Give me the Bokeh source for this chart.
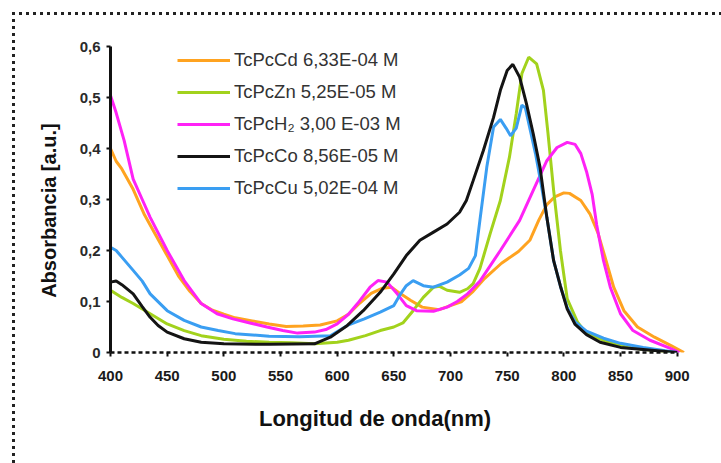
from bokeh.plotting import figure
from bokeh.layouts import column
from bokeh.models import (Legend, LegendItem, FixedTicker,
                          CustomJSTickFormatter, Range1d)
from bokeh.embed import file_html
from bokeh.resources import INLINE

# UV-Vis absorption spectra of the phthalocyanines (wavelength in nm, absorbance in a.u.)
cd_wl = [400, 405, 410, 420, 430, 440, 450, 460, 470, 480, 490, 500, 510, 525, 540, 555, 570,
         585, 600, 610, 620, 630, 640, 648, 656, 665, 675, 690, 700, 710, 720, 730, 745, 760,
         770, 778, 785, 792, 800, 805, 815, 823, 830, 836, 844, 853, 865, 880, 895, 906]
cd_abs = [0.400, 0.375, 0.360, 0.320, 0.270, 0.230, 0.190, 0.150, 0.120, 0.096, 0.083, 0.075,
          0.068, 0.062, 0.056, 0.051, 0.052, 0.054, 0.062, 0.075, 0.097, 0.116, 0.126, 0.128,
          0.115, 0.102, 0.089, 0.084, 0.092, 0.100, 0.120, 0.145, 0.175, 0.198, 0.220, 0.260,
          0.290, 0.305, 0.313, 0.312, 0.298, 0.272, 0.235, 0.190, 0.128, 0.082, 0.050, 0.030,
          0.013, 0.000]

zn_wl = [400, 410, 420, 435, 450, 465, 480, 500, 520, 540, 560, 580, 600, 610, 625, 638, 650,
         658, 667, 676, 685, 690, 697, 708, 715, 720, 726, 735, 744, 752, 758, 763, 769, 776,
         782, 786, 791, 797, 803, 812, 820, 840, 856, 880, 900]
zn_abs = [0.122, 0.108, 0.096, 0.076, 0.056, 0.043, 0.033, 0.026, 0.022, 0.020, 0.019, 0.017,
          0.020, 0.024, 0.033, 0.043, 0.050, 0.058, 0.082, 0.108, 0.128, 0.130, 0.122, 0.118,
          0.125, 0.135, 0.165, 0.233, 0.298, 0.383, 0.468, 0.547, 0.579, 0.566, 0.514, 0.430,
          0.318, 0.200, 0.105, 0.060, 0.037, 0.020, 0.010, 0.004, 0.000]

h2_wl = [400, 405, 412, 420, 428, 435, 450, 465, 480, 494, 508, 523, 538, 552, 565, 580, 590,
         600, 610, 618, 629, 636, 644, 653, 661, 670, 685, 697, 706, 715, 726, 744, 761, 773,
         785, 794, 803, 810, 815, 820, 825, 829, 835, 841, 850, 861, 876, 894, 902]
h2_abs = [0.504, 0.470, 0.416, 0.340, 0.300, 0.265, 0.200, 0.141, 0.096, 0.076, 0.066, 0.058,
          0.050, 0.043, 0.038, 0.040, 0.045, 0.056, 0.075, 0.096, 0.128, 0.141, 0.138, 0.115,
          0.092, 0.082, 0.081, 0.089, 0.100, 0.115, 0.140, 0.200, 0.259, 0.318, 0.376, 0.402,
          0.412, 0.408, 0.390, 0.355, 0.310, 0.250, 0.180, 0.128, 0.076, 0.043, 0.024, 0.008,
          0.000]

co_wl = [400, 405, 410, 420, 428, 435, 442, 450, 465, 480, 500, 540, 580, 594, 609, 623, 638,
         650, 661, 673, 685, 697, 708, 714, 720, 729, 738, 744, 750, 755, 761, 767, 773, 779,
         785, 791, 797, 803, 810, 820, 832, 850, 870, 900]
co_abs = [0.138, 0.140, 0.133, 0.115, 0.090, 0.069, 0.053, 0.040, 0.027, 0.020, 0.017, 0.016,
          0.017, 0.030, 0.053, 0.082, 0.118, 0.154, 0.190, 0.220, 0.236, 0.252, 0.275, 0.298,
          0.337, 0.396, 0.461, 0.514, 0.553, 0.565, 0.540, 0.488, 0.429, 0.363, 0.265, 0.180,
          0.130, 0.085, 0.055, 0.035, 0.020, 0.010, 0.006, 0.000]

cu_wl = [400, 405, 410, 420, 428, 435, 450, 465, 480, 495, 510, 540, 567, 594, 609, 624, 638,
         650, 656, 661, 667, 676, 685, 697, 708, 716, 722, 726, 732, 738, 744, 749, 753, 758,
         763, 766, 770, 775, 780, 785, 791, 797, 803, 810, 820, 835, 850, 870, 900]
cu_abs = [0.206, 0.200, 0.187, 0.161, 0.140, 0.115, 0.082, 0.063, 0.050, 0.043, 0.037, 0.032,
          0.031, 0.033, 0.053, 0.066, 0.079, 0.092, 0.115, 0.131, 0.141, 0.131, 0.128, 0.138,
          0.152, 0.165, 0.190, 0.260, 0.363, 0.442, 0.457, 0.440, 0.425, 0.440, 0.485, 0.480,
          0.440, 0.390, 0.330, 0.265, 0.180, 0.130, 0.088, 0.060, 0.042, 0.028, 0.018, 0.010,
          0.000]

series_labels = ["TcPcCd 6,33E-04 M", "TcPcZn 5,25E-05 M", "TcPcH\u2082 3,00 E-03 M",
                 "TcPcCo 8,56E-05 M", "TcPcCu 5,02E-04 M"]
x_ticks = [400, 450, 500, 550, 600, 650, 700, 750, 800, 850, 900]
y_ticks = [0, 0.1, 0.2, 0.3, 0.4, 0.5, 0.6]

colors = {"cd": "#FFA320", "zn": "#A2D21C", "h2": "#FF22F6", "co": "#141414", "cu": "#3A9EF2"}

p = figure(width=721, height=463, output_backend="svg", toolbar_location=None,
           x_range=Range1d(400, 910), y_range=Range1d(0, 0.6),
           min_border_left=110, min_border_right=33, min_border_top=46, min_border_bottom=111)
p.xgrid.visible = False
p.ygrid.visible = False
p.outline_line_color = None
p.background_fill_color = None
p.border_fill_color = None

lw = 3
r_cd = p.line(cd_wl, cd_abs, line_color=colors["cd"], line_width=lw)
r_zn = p.line(zn_wl, zn_abs, line_color=colors["zn"], line_width=lw)
r_h2 = p.line(h2_wl, h2_abs, line_color=colors["h2"], line_width=lw)
r_cu = p.line(cu_wl, cu_abs, line_color=colors["cu"], line_width=lw)
r_co = p.line(co_wl, co_abs, line_color=colors["co"], line_width=lw)

legend = Legend(items=[LegendItem(label=series_labels[0], renderers=[r_cd]),
                       LegendItem(label=series_labels[1], renderers=[r_zn]),
                       LegendItem(label=series_labels[2], renderers=[r_h2]),
                       LegendItem(label=series_labels[3], renderers=[r_co]),
                       LegendItem(label=series_labels[4], renderers=[r_cu])],
                location=(67, 153), padding=0, margin=0, spacing=10,
                glyph_width=53, glyph_height=20, label_height=20, label_standoff=4,
                label_text_font="Liberation Sans", label_text_font_size="18.5px",
                label_text_color="#333333", border_line_color=None,
                background_fill_alpha=0)
p.add_layout(legend, "center")

# x axis: dashed baseline
xa = p.xaxis[0]
xa.ticker = FixedTicker(ticks=x_ticks)
xa.bounds = (400, 900)
xa.axis_line_color = "#111111"
xa.axis_line_width = 2.5
xa.axis_line_dash = "4 3"
xa.major_tick_line_color = "#111111"
xa.major_tick_line_width = 2
xa.major_tick_out = 4
xa.major_tick_in = 0
xa.minor_tick_line_color = None
xa.major_label_standoff = 14
xa.major_label_text_font = "Liberation Sans"
xa.major_label_text_font_style = "bold"
xa.major_label_text_font_size = "15px"
xa.major_label_text_color = "#1a1a1a"
xa.axis_label = "Longitud de onda(nm)" + "\u00a0" * 8
xa.axis_label_standoff = 22
xa.axis_label_text_font = "Liberation Sans"
xa.axis_label_text_font_style = "bold"
xa.axis_label_text_font_size = "22px"
xa.axis_label_text_color = "#111111"

ya = p.yaxis[0]
ya.ticker = FixedTicker(ticks=y_ticks)
ya.formatter = CustomJSTickFormatter(code="return tick == 0 ? '0' : tick.toFixed(1).replace('.', ',');")
ya.axis_line_color = "#111111"
ya.axis_line_width = 3
ya.major_tick_line_color = "#111111"
ya.major_tick_line_width = 2
ya.major_tick_out = 4
ya.major_tick_in = 0
ya.minor_tick_line_color = None
ya.major_label_standoff = 6
ya.major_label_text_font = "Liberation Sans"
ya.major_label_text_font_style = "bold"
ya.major_label_text_font_size = "15px"
ya.major_label_text_color = "#2a2a2a"
ya.axis_label = "Absorbancia [a.u.]" + "\u00a0" * 4
ya.axis_label_standoff = 17
ya.axis_label_text_font = "Liberation Sans"
ya.axis_label_text_font_style = "bold"
ya.axis_label_text_font_size = "20px"
ya.axis_label_text_color = "#111111"

# dotted frame around the chart area: square dots along the top and left edges,
# painted on the container behind the transparent plot canvas
page = column(p, width=721, height=463, styles={
    "background-color": "white",
    "background-image": ("repeating-linear-gradient(to right, #222 0 3px, transparent 3px 7px), "
                         "repeating-linear-gradient(to bottom, #222 0 3px, transparent 3px 7px)"),
    "background-position": "12px 12px, 12px 12px",
    "background-size": "100% 3px, 3px 100%",
    "background-repeat": "no-repeat, no-repeat",
})

open("out.html", "w").write(file_html(page, INLINE))
